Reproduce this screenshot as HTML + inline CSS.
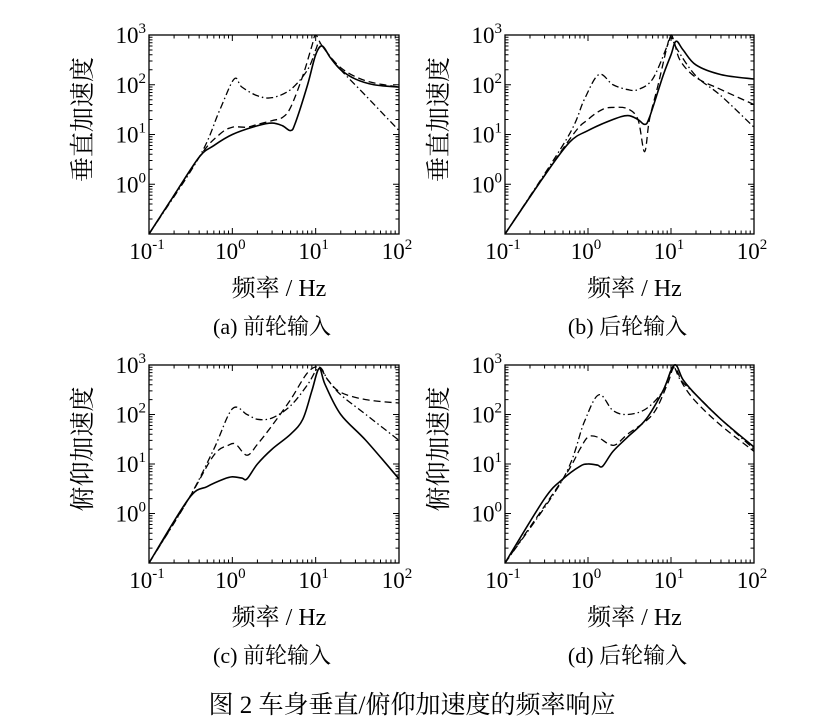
<!DOCTYPE html>
<html><head><meta charset="utf-8">
<style>
body{margin:0;background:#fff;}
svg{display:block;font-family:"Liberation Serif","Noto Serif CJK SC",serif;}
</style></head>
<body>
<svg id="fig" width="821" height="726" viewBox="0 0 821 726" xmlns="http://www.w3.org/2000/svg">
<text x="412" y="713" font-size="25" text-anchor="middle">图 2  车身垂直/俯仰加速度的频率响应</text>
</svg>
<script>
// panel data: [frequency Hz, acceleration]
const aSolid=[[0.1,0.1],[0.2,0.6],[0.4,3.5],[0.6,6],[1,10],[2,15],[3,17],[4,15],[5,12],[5.7,17],[8,100],[10,400],[12,600],[15,350],[20,200],[30,130],[50,100],[100,90]];
const aDash=[[0.1,0.1],[0.4,3.5],[0.7,10],[1,14],[1.5,14],[2,16],[3,19],[4,22],[5,35],[7,150],[9,600],[10,1000],[12,600],[20,220],[40,120],[100,90]];
const aDot=[[0.1,0.1],[0.4,3.5],[0.7,30],[1.05,130],[1.3,90],[2,60],[3,55],[5,80],[8,200],[10,500],[11,700],[13,500],[20,200],[40,60],[100,12]];
const bSolid=[[0.1,0.1],[0.3,1.5],[0.6,7],[1,12],[2,20],[3,24],[4,20],[4.8,16],[5.5,22],[8,150],[10,400],[11.5,750],[14,500],[20,250],[40,160],[100,130]];
const bDash=[[0.1,0.1],[0.6,8],[1,20],[1.5,32],[2,35],[3,33],[4,20],[4.8,4.5],[5.5,20],[7,100],[9,600],[10,1000],[11,700],[13,300],[20,140],[40,80],[100,40]];
const bDot=[[0.1,0.1],[0.55,8],[0.9,50],[1.35,160],[2,100],[3,80],[4,80],[6,130],[9,600],[10,900],[12,500],[20,150],[40,60],[100,14]];
const cSolid=[[0.1,0.1],[0.3,2],[0.5,3.5],[0.8,5],[1,5.5],[1.3,5.2],[1.5,5],[2,10],[3,20],[5,40],[7,80],[9,300],[11,850],[13,400],[20,100],[40,30],[100,5]];
const cDash=[[0.1,0.1],[0.3,2],[0.6,15],[0.9,24],[1.1,25],[1.5,15],[2,25],[3,60],[5,200],[8,700],[11,900],[14,500],[20,280],[40,200],[100,170]];
const cDot=[[0.1,0.1],[0.3,2],[0.6,20],[1,130],[1.5,100],[2,80],[3,85],[5,150],[8,400],[11,900],[14,500],[20,250],[40,100],[100,30]];
const dSolid=[[0.1,0.1],[0.3,2],[0.5,5],[0.8,9],[1,10],[1.3,9.5],[1.5,9],[2,18],[3,35],[5,80],[8,300],[11,1000],[14,500],[20,250],[40,80],[100,22]];
const dDash=[[0.1,0.1],[0.5,5],[0.8,20],[1,35],[1.3,35],[1.8,25],[2.2,25],[3,40],[6,100],[9,400],[11,900],[14,400],[20,180],[40,60],[100,18]];
const dDot=[[0.1,0.1],[0.5,5],[0.9,70],[1.35,250],[2,120],[3,100],[5,130],[8,300],[10.5,900],[13,500],[20,250],[40,80],[100,20]];
const xTickExp=[-1,0,1,2];
const yTickExp=[0,1,2,3];
const captions=["(a) 前轮输入","(b) 后轮输入","(c) 前轮输入","(d) 后轮输入"];
const yTitles=["垂直加速度","垂直加速度","俯仰加速度","俯仰加速度"];

const NS="http://www.w3.org/2000/svg";
const svg=document.getElementById('fig');
function mk(tag,attrs,parent){const e=document.createElementNS(NS,tag);for(const k in attrs)e.setAttribute(k,attrs[k]);(parent||svg).appendChild(e);return e;}
const panels=[
 {x0:149,x1:399,y0:35,y1:234,s:[aSolid,aDash,aDot],id:'a'},
 {x0:505,x1:754,y0:35,y1:234,s:[bSolid,bDash,bDot],id:'b'},
 {x0:149,x1:399,y0:365,y1:563,s:[cSolid,cDash,cDot],id:'c'},
 {x0:505,x1:754,y0:365,y1:563,s:[dSolid,dDash,dDot],id:'d'}];
const dashes=["","7 4","7 3 1.5 3"];
const sNames=["solid","dashed","dash-dot"];
panels.forEach((p,i)=>{
 const g=mk('g',{});
 
 
 const X=f=>p.x0+(Math.log10(f)+1)/3*(p.x1-p.x0);
 const Y=v=>p.y1-(Math.log10(v)+1)/4*(p.y1-p.y0);
 const clip=mk('clipPath',{id:'cl'+i},g);
 mk('rect',{x:p.x0,y:p.y0-2,width:p.x1-p.x0,height:p.y1-p.y0+2},clip);
 let d='';
 for(let e=-1;e<2;e++)for(let k=1;k<10;k++){const x=X(k*Math.pow(10,e));const L=k==1?6:3.5;d+=`M${x},${p.y1}v${-L}M${x},${p.y0}v${L}`;}
 for(let e=-1;e<3;e++)for(let k=1;k<10;k++){const y=Y(k*Math.pow(10,e));const L=k==1?6:3.5;d+=`M${p.x0},${y}h${L}M${p.x1},${y}h${-L}`;}
 const t=mk('path',{d:d,stroke:'#000','stroke-width':1,fill:'none'},g);
 
 
 p.s.forEach((ser,j)=>{
  const pts=ser.map(q=>[X(q[0]),Y(q[1])]);
  let dd=`M${pts[0][0]},${pts[0][1]}`;
  for(let k=0;k<pts.length-1;k++){const a=pts[Math.max(0,k-1)],b=pts[k],c=pts[k+1],e=pts[Math.min(pts.length-1,k+2)];
   dd+=`C${b[0]+(c[0]-a[0])/6},${b[1]+(c[1]-a[1])/6} ${c[0]-(e[0]-b[0])/6},${c[1]-(e[1]-b[1])/6} ${c[0]},${c[1]}`;}
  const l=mk('path',{d:dd,fill:'none',stroke:'#000','stroke-width':j==0?1.6:1.3,'stroke-dasharray':dashes[j],'clip-path':`url(#cl${i})`},g);
  
  
 });
 const box=mk('rect',{x:p.x0,y:p.y0,width:p.x1-p.x0,height:p.y1-p.y0,fill:'none',stroke:'#000','stroke-width':1.3},g);
 
 
 xTickExp.forEach(e=>{const tx=mk('text',{x:X(Math.pow(10,e))-2,y:p.y1+25,'font-size':23,'text-anchor':'middle'},g);
  
  
  tx.innerHTML=`10<tspan dy="-10" font-size="15">${e<0?'-1':e}</tspan>`;});
 yTickExp.forEach(e=>{const tx=mk('text',{x:p.x0-3,y:Y(Math.pow(10,e))+8,'font-size':23,'text-anchor':'end'},g);
  
  
  tx.innerHTML=`10<tspan dy="-10" font-size="15">${e}</tspan>`;});
 const cx=(p.x0+p.x1)/2;
 const xt=mk('text',{x:cx+5,y:p.y1+62,'font-size':24,'text-anchor':'middle'},g);
 
 
 xt.textContent='频率 / Hz';
 const cap=mk('text',{x:cx-2,y:p.y1+100,'font-size':22,'text-anchor':'middle'},g);
 
 
 cap.textContent=captions[i];
 const yx=p.x0-58, yy=(p.y0+p.y1)/2-15;
 const yt=mk('text',{x:yx,y:yy,'font-size':25,'text-anchor':'middle',transform:`rotate(-90 ${yx} ${yy})`},g);
 
 
 yt.textContent=yTitles[i];
});
</script>
</body></html>
